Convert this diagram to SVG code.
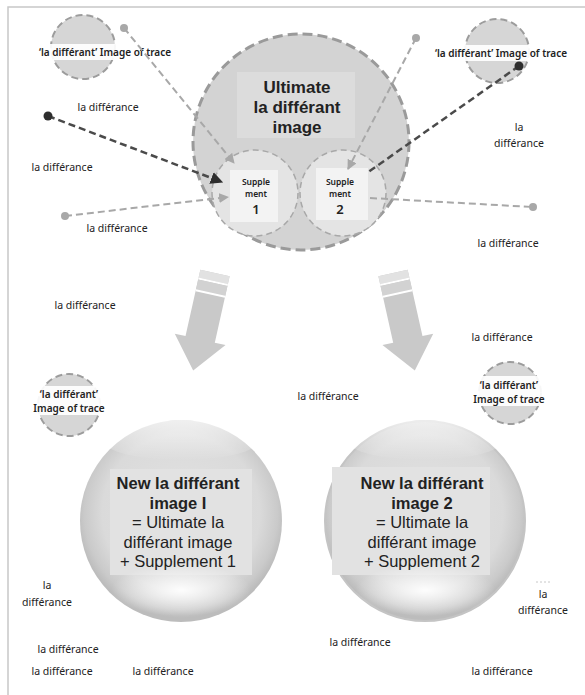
<svg xmlns="http://www.w3.org/2000/svg" width="585" height="695" viewBox="0 0 585 695">
  <defs>
    <style>
      text { font-family: "Noto Sans", "Open Sans", "Liberation Sans", sans-serif; fill: #222; }
      .lbl { font-size: 10.5px; text-anchor: middle; }
      .trace { font-size: 10px; font-weight: 600; text-anchor: middle; }
      .title { font-family: "Liberation Sans", Arial, sans-serif; font-size: 17px; font-weight: 700; text-anchor: middle; }
      .sup { font-size: 8.5px; font-weight: 600; text-anchor: middle; }
      .supn { font-size: 13px; font-weight: 600; text-anchor: middle; }
      .sph-b { font-family: "Liberation Sans", Arial, sans-serif; font-size: 16.5px; font-weight: 700; text-anchor: middle; }
      .sph { font-family: "Liberation Sans", Arial, sans-serif; font-size: 16.5px; text-anchor: middle; }
      .small-c { fill: #d6d6d6; stroke: #9c9c9c; stroke-width: 2; stroke-dasharray: 7 4; }
      .band { fill: #ffffff; opacity: 0.92; }
      .link-l { fill: none; stroke: #a8a8a8; stroke-width: 2; stroke-dasharray: 7 4; }
      .link-d { fill: none; stroke: #4a4a4a; stroke-width: 2.5; stroke-dasharray: 7 4; }
      .dot-l { fill: #a8a8a8; }
      .dot-d { fill: #2e2e2e; }
      .block { fill: #c9c9c9; }
    </style>
    <marker id="ah-light" viewBox="0 0 10 10" refX="9" refY="5" markerWidth="5" markerHeight="5" orient="auto" markerUnits="strokeWidth">
      <path d="M0,0 L10,5 L0,10 z" fill="#a8a8a8"/>
    </marker>
    <marker id="ah-dark" viewBox="0 0 10 10" refX="9" refY="5" markerWidth="5" markerHeight="5" orient="auto" markerUnits="strokeWidth">
      <path d="M0,0 L10,5 L0,10 z" fill="#2e2e2e"/>
    </marker>
    <radialGradient id="sphere" cx="50%" cy="46%" r="52%">
      <stop offset="0" stop-color="#e2e2e2"/>
      <stop offset="0.75" stop-color="#dadada"/>
      <stop offset="0.92" stop-color="#cacaca"/>
      <stop offset="1" stop-color="#bcbcbc"/>
    </radialGradient>
    <radialGradient id="glow" cx="50%" cy="50%" r="50%">
      <stop offset="0" stop-color="#ffffff" stop-opacity="0.95"/>
      <stop offset="1" stop-color="#ffffff" stop-opacity="0"/>
    </radialGradient>
    <linearGradient id="shine" x1="0" y1="0" x2="0" y2="1">
      <stop offset="0" stop-color="#ffffff" stop-opacity="0.7"/>
      <stop offset="1" stop-color="#ffffff" stop-opacity="0"/>
    </linearGradient>
    <!-- block arrow pointing down, origin at top centre of the shaft -->
    <g id="block-arrow">
      <path class="block" d="M-15,0 L15,0 L15,68 L26,68 L0,100 L-26,68 L-15,68 z"/>
      <rect x="-15" y="0" width="30" height="8" fill="#e2e2e2"/>
      <rect x="-15" y="8" width="30" height="2" fill="#ffffff"/>
      <rect x="-15" y="10" width="30" height="10" fill="#d2d2d2"/>
      <rect x="-15" y="20" width="30" height="2" fill="#ffffff"/>
    </g>
  </defs>

  <rect width="585" height="695" fill="#ffffff"/>
  <!-- frame -->
  <path d="M8,695 L8,7 L585,7" fill="none" stroke="#c8c8c8" stroke-width="1.5"/>

  <!-- main circle -->
  <g id="ultimate">
    <circle cx="301" cy="142" r="108" fill="#d3d3d3" stroke="#9a9a9a" stroke-width="3" stroke-dasharray="10 5"/>
    <rect x="237" y="72" width="118" height="66" fill="#dcdcdc"/>
    <text class="title" x="297" y="93">Ultimate</text>
    <text class="title" x="297" y="113">la différant</text>
    <text class="title" x="297" y="133">image</text>
  </g>

  <g id="supplement1">
    <circle cx="255" cy="193" r="43" fill="#e4e4e4" stroke="#a8a8a8" stroke-width="1.5" stroke-dasharray="6 4"/>
    <rect x="230" y="170" width="48" height="52" fill="#f3f3f3"/>
    <text class="sup" x="256" y="185">Supple</text>
    <text class="sup" x="256" y="197">ment</text>
    <text class="supn" x="256" y="214">1</text>
  </g>

  <g id="supplement2">
    <circle cx="343" cy="193" r="43" fill="#e4e4e4" stroke="#a8a8a8" stroke-width="1.5" stroke-dasharray="6 4"/>
    <rect x="316" y="168" width="52" height="52" fill="#f3f3f3"/>
    <text class="sup" x="340" y="185">Supple</text>
    <text class="sup" x="340" y="197">ment</text>
    <text class="supn" x="340" y="214">2</text>
  </g>

  <!-- trace circles -->
  <g id="trace-tl">
    <circle class="small-c" cx="83" cy="47" r="32"/>
    <rect class="band" x="27" y="44" width="155" height="16"/>
    <text class="trace" x="105" y="56">‘la différant’ Image of trace</text>
  </g>
  <g id="trace-tr">
    <circle class="small-c" cx="497" cy="51" r="32"/>
    <rect class="band" x="425" y="45" width="155" height="16"/>
    <text class="trace" x="501" y="57">‘la différant’ Image of trace</text>
  </g>
  <g id="trace-bl">
    <circle class="small-c" cx="69" cy="405" r="31"/>
    <rect class="band" x="28" y="386" width="82" height="29"/>
    <text class="trace" x="69" y="398">‘la différant’</text>
    <text class="trace" x="69" y="412">Image of trace</text>
  </g>
  <g id="trace-br">
    <circle class="small-c" cx="510" cy="393" r="31"/>
    <rect class="band" x="469" y="376" width="82" height="30"/>
    <text class="trace" x="509" y="389">‘la différant’</text>
    <text class="trace" x="509" y="403">Image of trace</text>
  </g>

  <!-- connectors -->
  <g id="connectors">
    <line class="link-l" x1="124" y1="28" x2="234" y2="163" marker-end="url(#ah-light)"/>
    <line class="link-d" x1="48" y1="116" x2="222" y2="182" marker-end="url(#ah-dark)"/>
    <line class="link-l" x1="65" y1="216" x2="228" y2="197" marker-end="url(#ah-light)"/>
    <line class="link-l" x1="416" y1="38" x2="348" y2="169" marker-end="url(#ah-light)"/>
    <line class="link-d" x1="519" y1="66" x2="367" y2="173"/>
    <line class="link-l" x1="370" y1="198" x2="533" y2="207"/>
    <circle class="dot-l" cx="124" cy="28" r="4"/>
    <circle class="dot-d" cx="48" cy="116" r="4.5"/>
    <circle class="dot-l" cx="65" cy="216" r="4"/>
    <circle class="dot-l" cx="416" cy="38" r="4"/>
    <circle class="dot-d" cx="519" cy="66" r="4.5"/>
    <circle class="dot-l" cx="533" cy="207" r="4"/>
    <use href="#block-arrow" transform="translate(215,273) rotate(12.6)"/>
    <use href="#block-arrow" transform="translate(393,273) rotate(-12.6)"/>
  </g>

  <!-- result spheres -->
  <g id="new-image-1">
    <circle cx="181" cy="521" r="101" fill="url(#sphere)"/>
    <ellipse cx="181" cy="440" rx="78" ry="20" fill="url(#shine)"/>
    <rect x="110" y="469" width="142" height="106" fill="#e2e2e2"/>
    <ellipse cx="181" cy="590" rx="70" ry="26" fill="url(#glow)"/>
    <text class="sph-b" x="178" y="489">New la différant</text>
    <text class="sph-b" x="178" y="509">image I</text>
    <text class="sph" x="178" y="528">= Ultimate la</text>
    <text class="sph" x="178" y="548">différant image</text>
    <text class="sph" x="178" y="567">+ Supplement 1</text>
  </g>
  <g id="new-image-2">
    <circle cx="425" cy="521" r="100" fill="url(#sphere)" stroke="#c4c4c4" stroke-width="2"/>
    <ellipse cx="425" cy="440" rx="78" ry="20" fill="url(#shine)"/>
    <rect x="332" y="467" width="158" height="108" fill="#e2e2e2"/>
    <ellipse cx="425" cy="590" rx="70" ry="26" fill="url(#glow)"/>
    <text class="sph-b" x="422" y="489">New la différant</text>
    <text class="sph-b" x="422" y="509">image 2</text>
    <text class="sph" x="422" y="528">= Ultimate la</text>
    <text class="sph" x="422" y="548">différant image</text>
    <text class="sph" x="422" y="567">+ Supplement 2</text>
  </g>

  <!-- free labels -->
  <g id="labels">
    <text class="lbl" x="108" y="111">la différance</text>
    <text class="lbl" x="62" y="171">la différance</text>
    <text class="lbl" x="117" y="232">la différance</text>
    <text class="lbl" x="519" y="131">la</text>
    <text class="lbl" x="519" y="147">différance</text>
    <text class="lbl" x="508" y="247">la différance</text>
    <text class="lbl" x="85" y="309">la différance</text>
    <text class="lbl" x="502" y="341">la différance</text>
    <text class="lbl" x="328" y="400">la différance</text>
    <text class="lbl" x="47" y="589">la</text>
    <text class="lbl" x="47" y="606">différance</text>
    <text class="lbl" x="68" y="653">la différance</text>
    <text class="lbl" x="62" y="675">la différance</text>
    <text class="lbl" x="163" y="675">la différance</text>
    <line x1="536" y1="582" x2="552" y2="582" stroke="#c8c8c8" stroke-width="1" stroke-dasharray="2 2"/>
    <text class="lbl" x="543" y="598">la</text>
    <text class="lbl" x="543" y="614">différance</text>
    <text class="lbl" x="360" y="646">la différance</text>
    <text class="lbl" x="502" y="675">la différance</text>
  </g>
</svg>
